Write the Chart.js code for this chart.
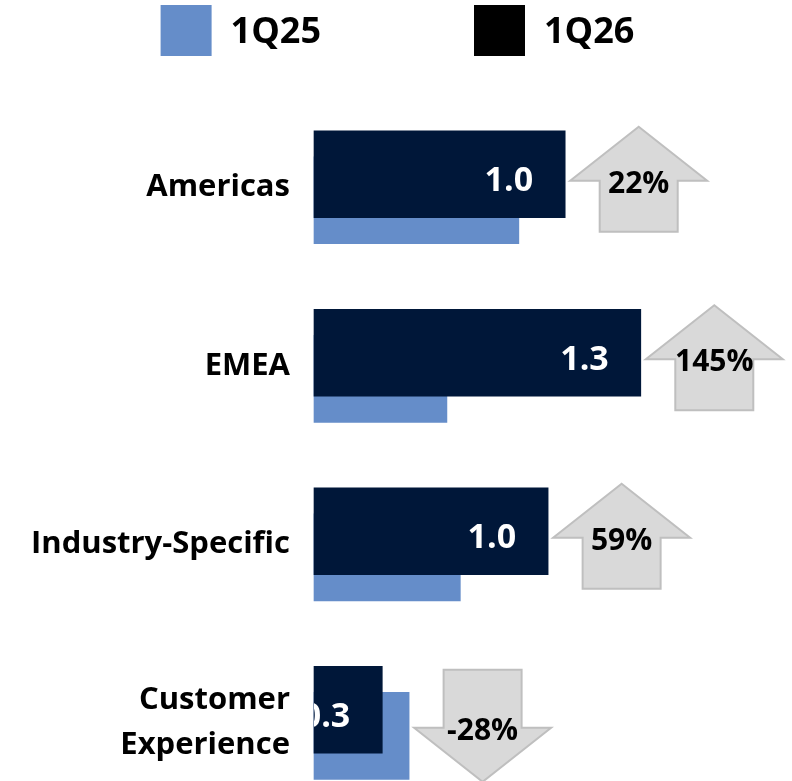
<!DOCTYPE html>
<html>
<head>
<meta charset="utf-8">
<script src="https://cdn.jsdelivr.net/npm/chart.js@4.4.1/dist/chart.umd.min.js"></script>
<style>
  html, body { margin: 0; padding: 0; background: #fff; }
  #wrap { width: 792px; height: 781px; position: relative; }
</style>
</head>
<body>
<div id="wrap"><canvas id="chart"></canvas></div>
<script>
/* ---- data ---- */
const categories   = ['Americas', 'EMEA', 'Industry-Specific', ['Customer', 'Experience']];
const q25Values    = [0.84, 0.545, 0.60, 0.39];
const q26Values    = [1.03, 1.34, 0.96, 0.28];
const changeLabels = ['22%', '145%', '59%', '-28%'];
const seriesNames  = ['1Q25', '1Q26'];

/* ---- style ---- */
const NAVY  = '#001739';
const LIGHT = '#658dc9';
const FONT  = '"Open Sans", "DejaVu Sans", sans-serif';
const SHIFT = 0.073;   // vertical offset of the two bars around the row centre

/* arrows + value labels + legend */
const overlay = {
    id: 'overlay',
    afterDatasetsDraw(chart) {
        const ctx   = chart.ctx;
        const dark  = chart.getDatasetMeta(0).data;
        const light = chart.getDatasetMeta(1).data;

        // value labels inside the 1Q26 bar, clipped to the bar
        dark.forEach((bar, i) => {
            ctx.save();
            ctx.beginPath();
            ctx.rect(bar.base, bar.y - bar.height / 2, bar.x - bar.base, bar.height);
            ctx.clip();
            ctx.fillStyle = '#fff';
            ctx.font = 'bold 34px ' + FONT;
            ctx.textAlign = 'right';
            ctx.textBaseline = 'alphabetic';
            ctx.fillText(q26Values[i].toFixed(1), bar.x - 32, bar.y + 17);
            ctx.restore();
        });

        // change arrows
        light.forEach((bar, i) => {
            const end = Math.max(bar.x, dark[i].x);
            const up  = q26Values[i] >= q25Values[i];
            const W = 137, headH = 54, shaftW = 78;
            const H   = up ? 105 : 112;
            const cy  = (bar.y + dark[i].y) / 2 + (up ? -8 : 3);
            const cx  = end + 5 + W / 2;
            const top = cy - H / 2, bot = cy + H / 2;

            ctx.save();
            ctx.beginPath();
            let headBase;
            if (up) {
                headBase = top + headH;
                ctx.moveTo(cx, top);
                ctx.lineTo(cx + W / 2, headBase);
                ctx.lineTo(cx + shaftW / 2, headBase);
                ctx.lineTo(cx + shaftW / 2, bot);
                ctx.lineTo(cx - shaftW / 2, bot);
                ctx.lineTo(cx - shaftW / 2, headBase);
                ctx.lineTo(cx - W / 2, headBase);
            } else {
                headBase = bot - headH;
                ctx.moveTo(cx, bot);
                ctx.lineTo(cx + W / 2, headBase);
                ctx.lineTo(cx + shaftW / 2, headBase);
                ctx.lineTo(cx + shaftW / 2, top);
                ctx.lineTo(cx - shaftW / 2, top);
                ctx.lineTo(cx - shaftW / 2, headBase);
                ctx.lineTo(cx - W / 2, headBase);
            }
            ctx.closePath();
            ctx.fillStyle = '#d9d9d9';
            ctx.fill();
            ctx.lineWidth = 2;
            ctx.strokeStyle = '#bfbfbf';
            ctx.stroke();

            ctx.fillStyle = '#000';
            ctx.font = 'bold 30px ' + FONT;
            ctx.textAlign = 'center';
            ctx.textBaseline = 'alphabetic';
            ctx.fillText(changeLabels[i], cx, headBase + 12);
            ctx.restore();
        });
    },
    afterDraw(chart) {
        // legend, centred at the top
        const ctx = chart.ctx;
        const colors = [LIGHT, '#000'];
        const box = 51, gapText = 20, gapItem = 152;
        ctx.save();
        ctx.font = 'bold 36px ' + FONT;
        const widths = seriesNames.map(s => ctx.measureText(s).width);
        const total = widths.reduce((a, w) => a + box + gapText + w, 0) + gapItem * (seriesNames.length - 1);
        let x = (chart.width - total) / 2 + 2;
        seriesNames.forEach((name, i) => {
            ctx.fillStyle = colors[i];
            ctx.fillRect(x, 5, box, box);
            ctx.fillStyle = '#000';
            ctx.textAlign = 'left';
            ctx.textBaseline = 'alphabetic';
            ctx.fillText(name, x + box + gapText - 1, 43);
            x += box + gapText + widths[i] + gapItem;
        });
        ctx.restore();
    }
};

new Chart(document.getElementById('chart'), {
    type: 'bar',
    data: {
        datasets: [
            {
                label: seriesNames[1],
                data: q26Values.map((v, i) => ({ x: v, y: i - SHIFT })),
                backgroundColor: NAVY,
                barThickness: 87,
                grouped: false,
                clip: false,
                order: 0
            },
            {
                label: seriesNames[0],
                data: q25Values.map((v, i) => ({ x: v, y: i + SHIFT })),
                backgroundColor: LIGHT,
                barThickness: 87,
                grouped: false,
                clip: false,
                order: 1
            }
        ]
    },
    options: {
        indexAxis: 'y',
        responsive: true,
        maintainAspectRatio: false,
        animation: false,
        layout: { autoPadding: false, padding: { top: 98, right: 0, bottom: 0, left: 0 } },
        plugins: {
            legend: { display: false },
            tooltip: { enabled: false }
        },
        scales: {
            x: {
                type: 'linear',
                display: false,
                min: 0,
                max: 1.96
            },
            y: {
                type: 'linear',
                reverse: true,
                offset: false,
                min: -0.5,
                max: 3.2,
                grid: { display: false, drawTicks: true, tickLength: 24 },
                border: { display: false },
                // empty ticks at both ends keep the axis from padding the chart area
                afterBuildTicks: s => {
                    s.ticks = [{ value: s.min }, ...categories.map((c, i) => ({ value: i })), { value: s.max }];
                },
                afterFit: s => { s.width = 314; },
                ticks: {
                    padding: 0,
                    autoSkip: false,
                    color: '#000',
                    font: { family: FONT, size: 31, weight: 'bold', lineHeight: 1.45 },
                    callback: v => categories[v] ?? null
                }
            }
        }
    },
    plugins: [overlay]
});
</script>
</body>
</html>
